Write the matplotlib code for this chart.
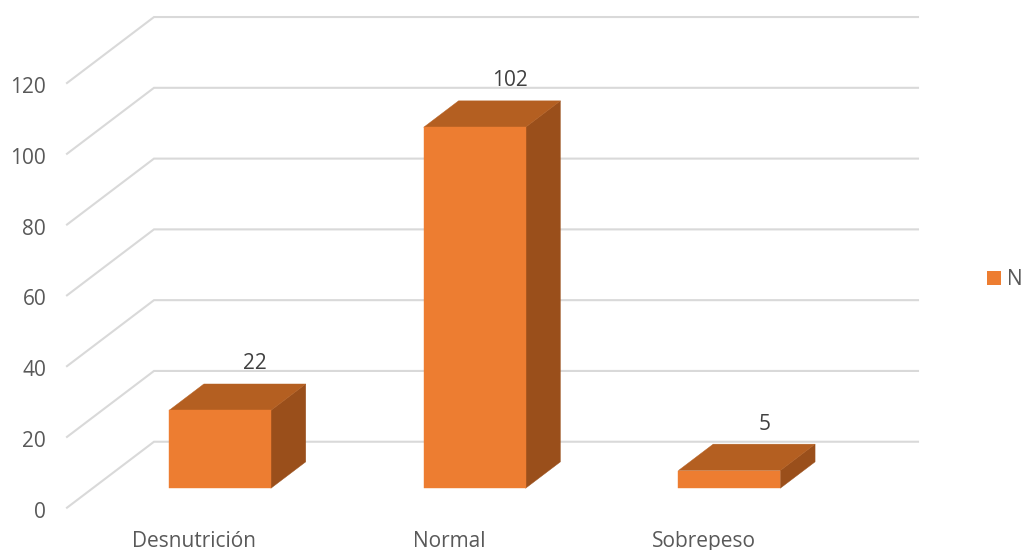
import matplotlib
matplotlib.use('Agg')
import matplotlib.pyplot as plt
from matplotlib.patches import Polygon, Patch
from matplotlib.transforms import ScaledTranslation

categorias = ['Desnutrición', 'Normal', 'Sobrepeso']
valores = [22, 102, 5]
ticks_y = [0, 20, 40, 60, 80, 100, 120]

W, H = 1022, 550
NARANJA = '#ED7D31'
TAPA = '#B45F21'
LATERAL = '#9A4F1B'
GRID = '#D9D9D9'
TAM = 15

# Vector de profundidad del falso 3D, en unidades de datos
PROF_X = 0.3416
PROF_Y = 18.64
# Posición de la barra dentro del fondo y mitad de su ancho
INICIO = 0.295
FONDO = 0.40
MEDIO_ANCHO = 0.2

plt.rcParams['font.family'] = ['Open Sans', 'DejaVu Sans']

fig = plt.figure(figsize=(W / 100, H / 100), dpi=100)
ax = fig.add_axes([67 / W, 1 - 507.7 / H, 764 / W, 424.7 / H])
ax.set_xlim(-0.5, 2.5)
ax.set_ylim(0, 120)
for lado in ax.spines.values():
    lado.set_visible(False)


def proyecta(x, y, d):
    # d = 0 es el plano frontal, d = 1 la pared del fondo
    return (x + PROF_X * d, y + PROF_Y * d)


# Rejilla: diagonal sobre el lateral y línea horizontal en el fondo
for v in ticks_y:
    puntos = [proyecta(-0.5, v, 0), proyecta(-0.5, v, 1), proyecta(2.5, v, 1)]
    ax.plot([p[0] for p in puntos], [p[1] for p in puntos], color=GRID, lw=1.5,
            clip_on=False, zorder=1, solid_joinstyle='miter')

# Barras: cara frontal, tapa y lateral
for i, valor in enumerate(valores):
    x0, x1 = i - MEDIO_ANCHO, i + MEDIO_ANCHO
    d0, d1 = INICIO, INICIO + FONDO
    frente = [proyecta(x0, 0, d0), proyecta(x1, 0, d0), proyecta(x1, valor, d0), proyecta(x0, valor, d0)]
    tapa = [proyecta(x0, valor, d0), proyecta(x1, valor, d0), proyecta(x1, valor, d1), proyecta(x0, valor, d1)]
    lateral = [proyecta(x1, 0, d0), proyecta(x1, 0, d1), proyecta(x1, valor, d1), proyecta(x1, valor, d0)]
    for caras, color in ((lateral, LATERAL), (tapa, TAPA), (frente, NARANJA)):
        ax.add_patch(Polygon(caras, closed=True, facecolor=color, edgecolor=color, lw=0.3,
                             clip_on=False, zorder=3))
    # Etiqueta de valor sobre la arista trasera de la tapa
    ax.annotate(str(valor), proyecta(i, valor, d1), xytext=(0, 20), textcoords='offset pixels',
                ha='center', va='center', fontsize=TAM, color='#404040', zorder=5,
                annotation_clip=False)

ax.set_xticks(range(len(categorias)))
ax.set_xticklabels(categorias)
ax.set_yticks(ticks_y)
ax.tick_params(axis='both', length=0, labelsize=TAM, labelcolor='#595959')
ax.tick_params(axis='x', pad=16.5)
ax.tick_params(axis='y', pad=15)

# Baja un poco los números del eje Y
baja = ScaledTranslation(0, -2 / 100, fig.dpi_scale_trans)
for etiqueta in ax.get_yticklabels():
    etiqueta.set_transform(etiqueta.get_transform() + baja)

leyenda = [Patch(facecolor=NARANJA, edgecolor='none', label='N')]
fig.legend(handles=leyenda, loc='center left', bbox_to_anchor=(987 / W, 1 - 280 / H), frameon=False,
           handlelength=0.67, handleheight=0.67, handletextpad=0.29, borderpad=0, borderaxespad=0,
           prop={'size': TAM}, labelcolor='#595959')

fig.savefig('out.png', dpi=100, facecolor='white')
